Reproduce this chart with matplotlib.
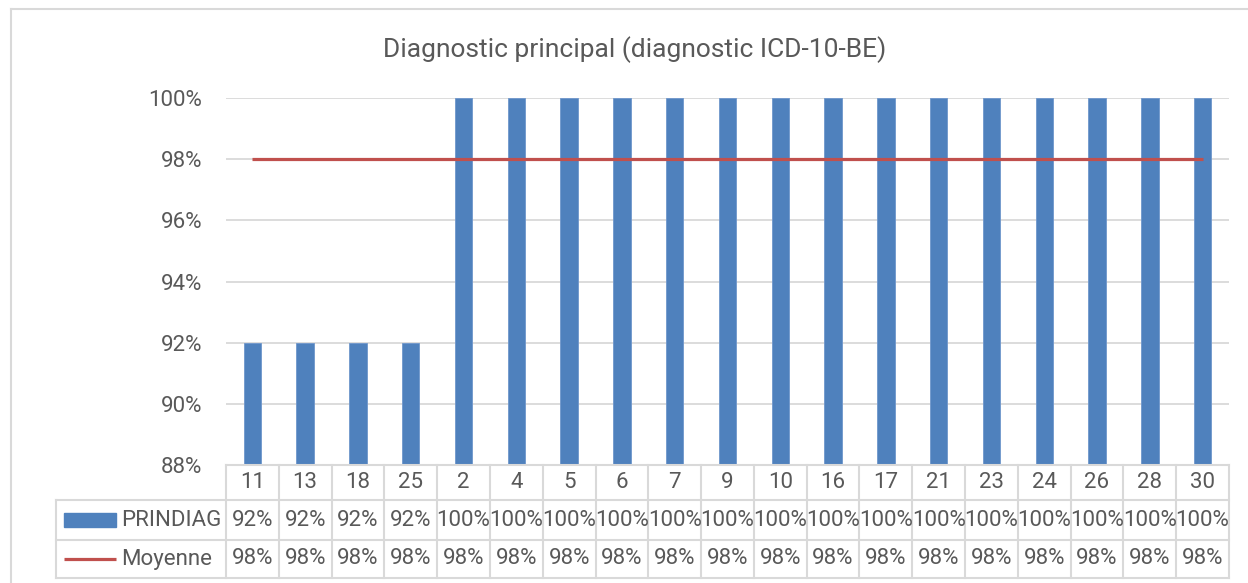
import matplotlib
matplotlib.use("Agg")
import matplotlib.pyplot as plt
from matplotlib.patches import Rectangle
from matplotlib.lines import Line2D

plt.rcParams['font.family'] = ['Roboto', 'DejaVu Sans']

categories = ["11", "13", "18", "25", "2", "4", "5", "6", "7", "9", "10",
              "16", "17", "21", "23", "24", "26", "28", "30"]
prindiag = [92, 92, 92, 92, 100, 100, 100, 100, 100, 100, 100,
            100, 100, 100, 100, 100, 100, 100, 100]
moyenne = [98] * 19
yticks = [88, 90, 92, 94, 96, 98, 100]
title = "Diagnostic principal (diagnostic ICD-10-BE)"
series_names = ["PRINDIAG", "Moyenne"]

BLUE = "#4F81BD"
RED = "#C0504D"
GRID = "#D9D9D9"
TXT = "#595959"

W, H = 1248, 583
fig = plt.figure(figsize=(W / 100, H / 100), dpi=100)

def fx(px):
    return px / W

def fy(py):
    return 1 - py / H

# chart border
fig.add_artist(Line2D([fx(11), fx(1248)], [fy(8.5), fy(8.5)], color=GRID, lw=1.5))
fig.add_artist(Line2D([fx(11), fx(11)], [fy(8.5), fy(583)], color=GRID, lw=1.5))

left_px, right_px, top_px, bot_px = 226, 1229, 98, 465
ax = fig.add_axes([fx(left_px), fy(bot_px), fx(right_px - left_px), fy(top_px) - fy(bot_px)])
n = len(categories)
x = list(range(n))
ax.bar(x, prindiag, width=0.33, color=BLUE, edgecolor="#6F97CC", linewidth=0.6, zorder=3)
ax.plot(x, moyenne, color=RED, lw=2.3, solid_capstyle='butt', zorder=4)
ax.set_xlim(-0.5, n - 0.5)
ax.set_ylim(88, 100)
ax.set_yticks(yticks)
ax.set_yticklabels([f"{v}%" for v in yticks], color=TXT, fontsize=16)
ax.tick_params(axis='y', length=0, pad=17)
ax.set_xticks([])
ax.yaxis.grid(True, color=GRID, lw=1.3, zorder=0)
for s in ax.spines.values():
    s.set_visible(False)

fig.text(fx(635), fy(50), title, ha='center', va='center', fontsize=19, color=TXT)

# data table
tab = fig.add_axes([fx(left_px), fy(578), fx(right_px - left_px), fy(465) - fy(578)])
tab.set_xlim(-0.5, n - 0.5)
tab.set_ylim(113, 0)
tab.axis('off')
rows = [0, 35, 75, 113]
unit = (right_px - left_px) / n
leg_left = -0.5 - (left_px - 56) / unit
lc = dict(color=GRID, lw=1.5, clip_on=False)
tab.plot([-0.5, n - 0.5], [rows[0], rows[0]], **lc)
for r in rows[1:]:
    tab.plot([leg_left, n - 0.5], [r, r], **lc)
for i in range(n + 1):
    tab.plot([i - 0.5, i - 0.5], [rows[0], rows[3]], **lc)
tab.plot([leg_left, leg_left], [rows[1], rows[3]], **lc)

fs = 16
for i, c in enumerate(categories):
    tab.text(i, (rows[0] + rows[1]) / 2, c, ha='center', va='center', fontsize=fs, color=TXT)
    tab.text(i, (rows[1] + rows[2]) / 2, f"{prindiag[i]}%", ha='center', va='center', fontsize=fs, color=TXT)
    tab.text(i, (rows[2] + rows[3]) / 2, f"{moyenne[i]}%", ha='center', va='center', fontsize=fs, color=TXT)

kx0 = leg_left + 8 / unit
kx1 = leg_left + 60 / unit
ym1 = (rows[1] + rows[2]) / 2
ym2 = (rows[2] + rows[3]) / 2
tab.add_patch(Rectangle((kx0, ym1 - 7), kx1 - kx0, 14, color=BLUE, clip_on=False))
tab.plot([kx0, kx1], [ym2, ym2], color=RED, lw=2.3, clip_on=False, solid_capstyle='butt')
tab.text(kx1 + 5 / unit, ym1, series_names[0], ha='left', va='center', fontsize=fs, color=TXT)
tab.text(kx1 + 5 / unit, ym2, series_names[1], ha='left', va='center', fontsize=fs, color=TXT)

fig.savefig("out.png", dpi=100)
